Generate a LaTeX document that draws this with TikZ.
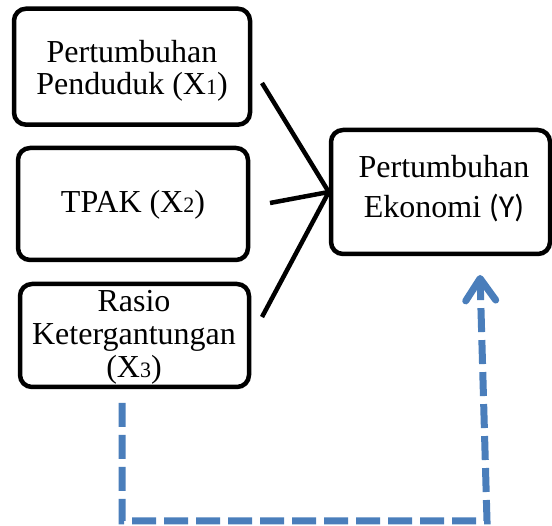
\documentclass[tikz,border=0pt]{standalone}
\usepackage{fontspec}
\setmainfont{Liberation Serif}
\newfontfamily\calib{Carlito}
\usetikzlibrary{arrows.meta}
\definecolor{dashblue}{RGB}{74,126,187}
\newcommand{\lowsub}[1]{{\fontsize{22}{22}\selectfont #1}}
\begin{document}
\begin{tikzpicture}[x=1pt,y=-1pt,
  box/.style={draw,line width=4.5pt,rounded corners=12pt,inner sep=0pt},
  lbl/.style={align=center,font=\fontsize{32}{32}\selectfont,inner sep=0pt,anchor=base},
  link/.style={line width=4.5pt},
  dep/.style={dashblue,line width=7pt,dash pattern=on 24pt off 8pt}]
\useasboundingbox (0,0) rectangle (552,526);
% boxes
\node[box,minimum width=236pt,minimum height=116pt] (b1) at (132,66.7) {};
\node[box,minimum width=230pt,minimum height=112pt] (b2) at (133,204) {};
\node[box,minimum width=229pt,minimum height=103pt] (b3) at (134.5,335.5) {};
\node[box,minimum width=219pt,minimum height=124pt] (Y) at (440.5,192) {};
% texts (anchored at the baseline of the last line)
\node[lbl] (t1) at (132,95) {Pertumbuhan\\Penduduk (X\lowsub{1})};
\node[lbl] (t2) at (133,213) {TPAK (X\lowsub{2})};
\node[lbl,font=\fontsize{32}{33}\selectfont] (t3) at (134,378) {Rasio\\Ketergantungan\\(X\lowsub{3})};
\node[lbl,font=\fontsize{32}{40}\selectfont] (tY) at (444,218) {Pertumbuhan\\Ekonomi {\calib(Y)}};
% connectors
\coordinate (s1) at (262,83);
\coordinate (s2) at (270,203);
\coordinate (s3) at (262,317);
\draw[link] (s1) -- (Y.west);
\draw[link] (s2) -- (Y.west);
\draw[link] (s3) -- (Y.west);
% dashed feedback
\coordinate (d0) at (122,403);
\coordinate (d1) at (122,521);
\coordinate (d2) at (487,521);
\coordinate (tip) at (480,275);
\draw[dep,-{Straight Barb[length=22pt,width=30pt,round]}] (d0) -- (d1) -- (d2) -- (tip);
\end{tikzpicture}
\end{document}
